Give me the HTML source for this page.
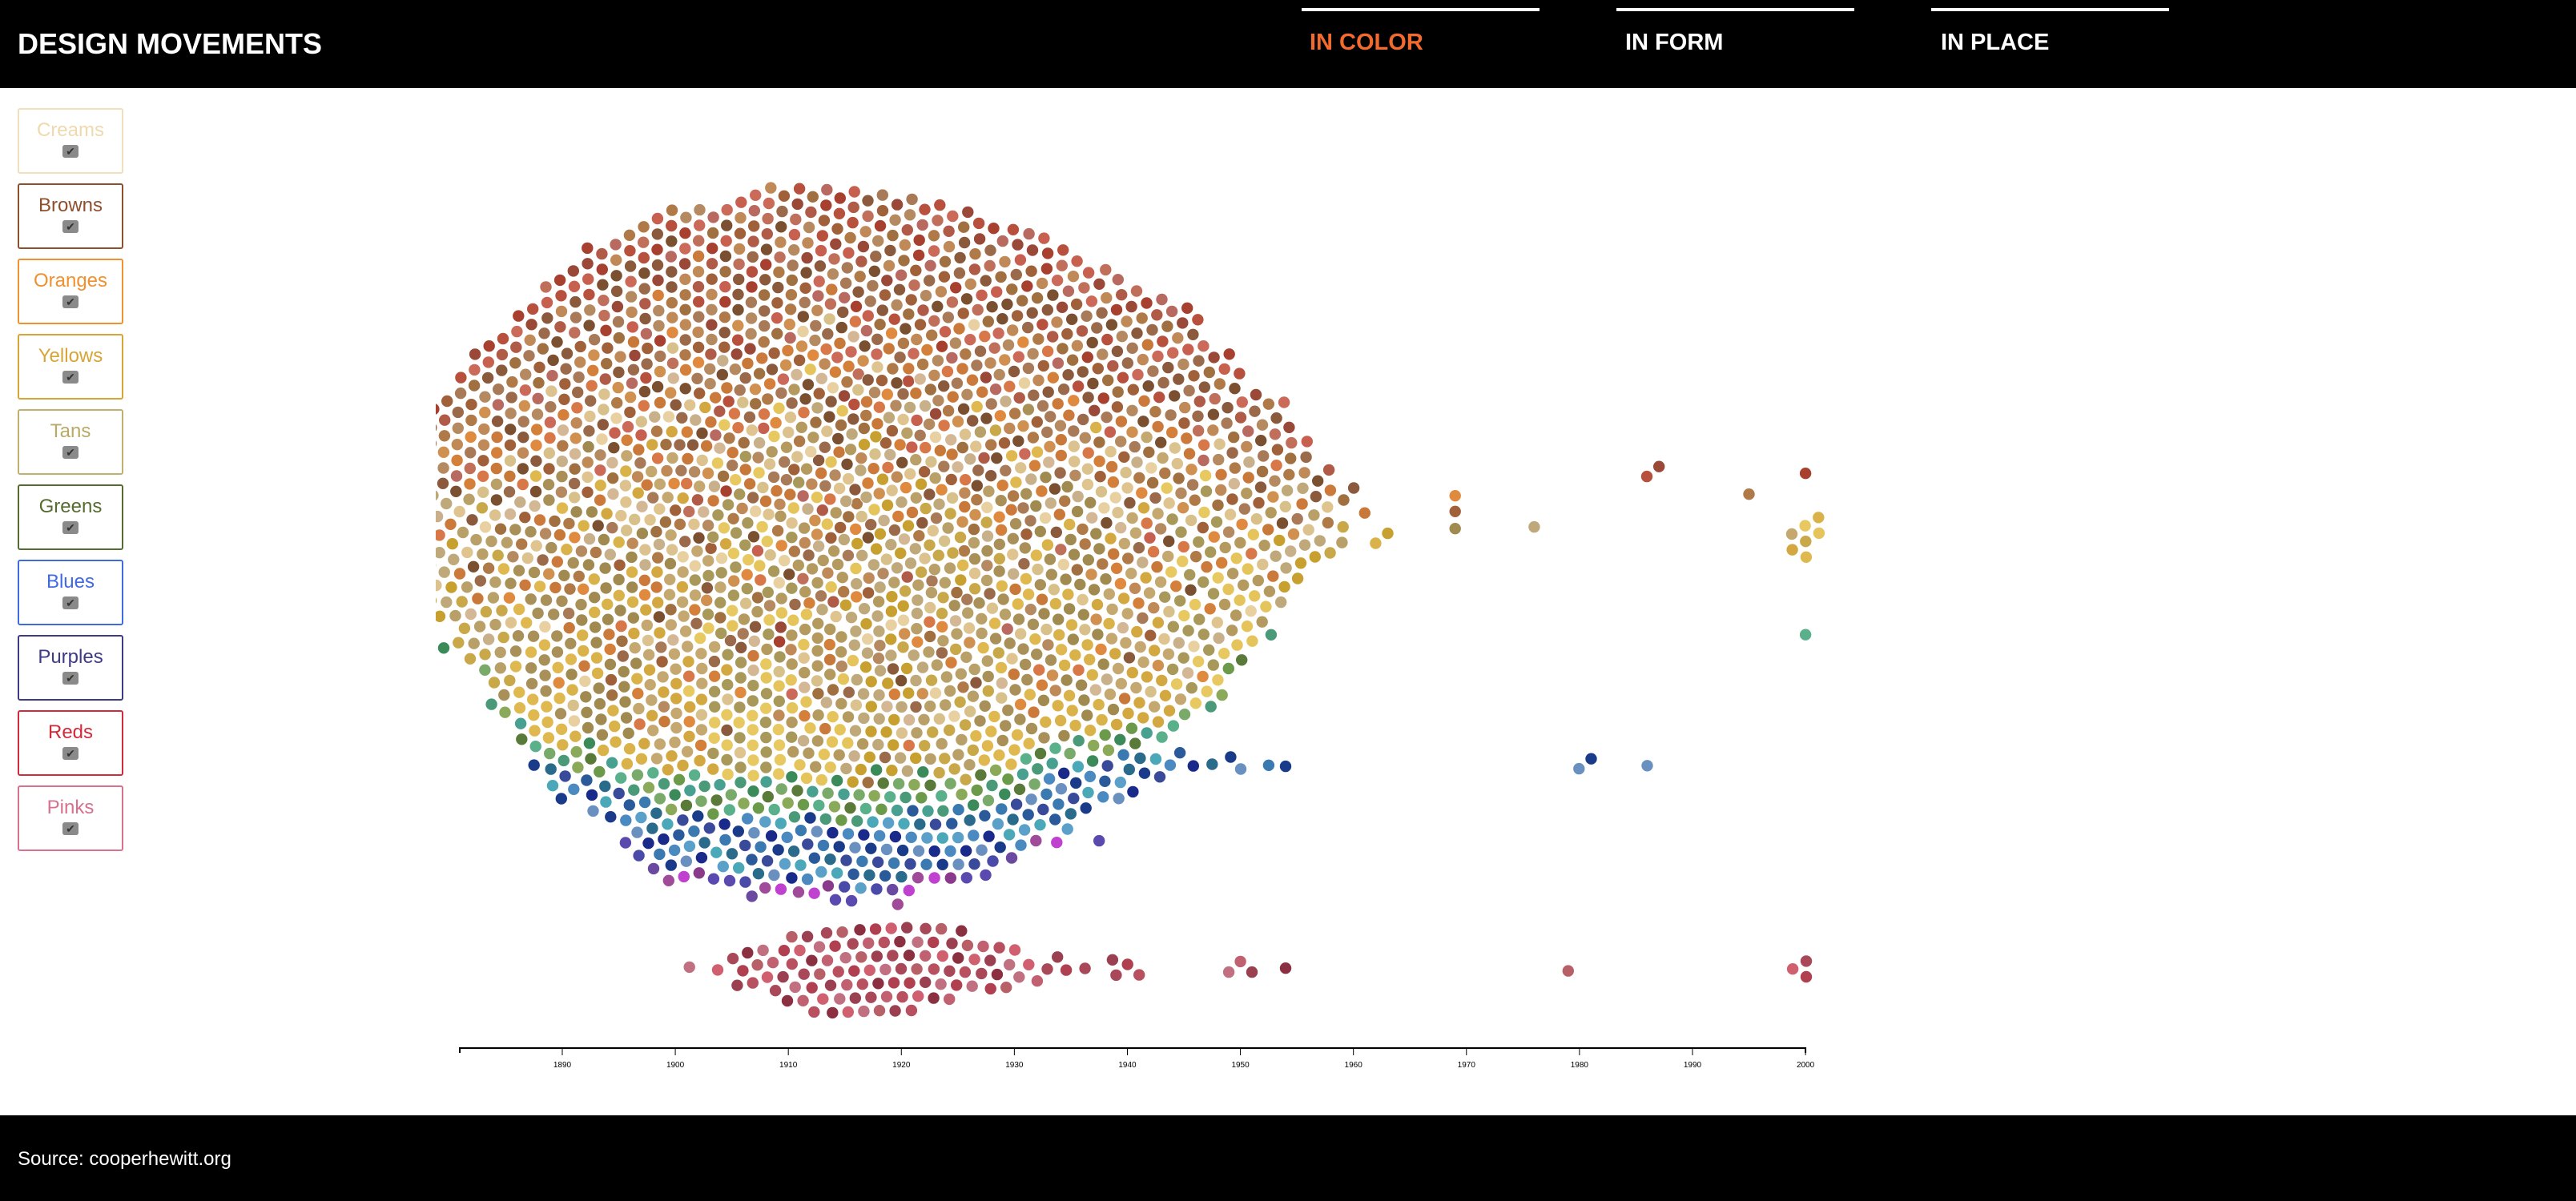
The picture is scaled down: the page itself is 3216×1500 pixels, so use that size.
<!DOCTYPE html>
<html><head><meta charset="utf-8">
<style>
html,body{margin:0;padding:0;width:3216px;height:1500px;overflow:hidden;background:#fff;font-family:"Liberation Sans",Arial,sans-serif;}
#header{position:absolute;left:0;top:0;width:3216px;height:110px;background:#000;}
#title{position:absolute;left:22px;top:34px;font-size:36px;font-weight:bold;color:#fff;letter-spacing:0px;}
.navbar{position:absolute;top:10px;height:4px;width:297px;background:#fff;}
.navtxt{position:absolute;top:37px;font-size:29px;font-weight:bold;color:#fff;}
#footer{position:absolute;left:0;top:1393px;width:3216px;height:107px;background:#000;}
#source{position:absolute;left:22px;top:41px;color:#fff;font-size:24px;}
.box{position:absolute;left:22px;width:128px;height:78px;border:2px solid;border-radius:3px;background:#fff;text-align:center;}
.box .lbl{font-size:24px;margin-top:12px;line-height:28px;}
.box .cb{width:20px;height:16px;background:#8a8a8a;border-radius:3px;margin:4px auto 0;color:#333;font-size:14px;line-height:16px;text-align:center;}
#chart{position:absolute;left:0;top:0;}
</style></head><body>
<div id="header">
  <div id="title">DESIGN MOVEMENTS</div>
  <div class="navbar" style="left:1625px"></div>
  <div class="navbar" style="left:2018px"></div>
  <div class="navbar" style="left:2411px"></div>
  <div class="navtxt" style="left:1635px;color:#f26a2e">IN COLOR</div>
  <div class="navtxt" style="left:2029px">IN FORM</div>
  <div class="navtxt" style="left:2423px">IN PLACE</div>
</div>

<div class="box" style="top:135px;border-color:#f0dfb8;color:#efd9ae"><div class="lbl">Creams</div><div class="cb">✔</div></div>
<div class="box" style="top:229px;border-color:#8e4f2c;color:#8e4f2c"><div class="lbl">Browns</div><div class="cb">✔</div></div>
<div class="box" style="top:323px;border-color:#f0902e;color:#f0902e"><div class="lbl">Oranges</div><div class="cb">✔</div></div>
<div class="box" style="top:417px;border-color:#d9a436;color:#d9a436"><div class="lbl">Yellows</div><div class="cb">✔</div></div>
<div class="box" style="top:511px;border-color:#c0b06e;color:#b8aa66"><div class="lbl">Tans</div><div class="cb">✔</div></div>
<div class="box" style="top:605px;border-color:#556b2f;color:#556b2f"><div class="lbl">Greens</div><div class="cb">✔</div></div>
<div class="box" style="top:699px;border-color:#4169e1;color:#4169e1"><div class="lbl">Blues</div><div class="cb">✔</div></div>
<div class="box" style="top:793px;border-color:#3e3a86;color:#3e3a86"><div class="lbl">Purples</div><div class="cb">✔</div></div>
<div class="box" style="top:887px;border-color:#d22a3c;color:#d22a3c"><div class="lbl">Reds</div><div class="cb">✔</div></div>
<div class="box" style="top:981px;border-color:#d8708e;color:#d8708e"><div class="lbl">Pinks</div><div class="cb">✔</div></div>

<svg id="chart" width="3216" height="1500">
  <defs><clipPath id="clip"><rect x="544" y="110" width="2672" height="1283"/></clipPath></defs>
  <g id="dots" clip-path="url(#clip)"></g>
  <g id="axis"></g>
</svg>

<div id="footer"><div id="source">Source: cooperhewitt.org</div></div>

<script>
// bins of 5 years starting 1860
const binStart = 1860;
const binYears = 5;
const groups = ["Reds","Browns","Oranges","Creams","Yellows","Tans","Greens","Blues","Purples","Pinks"];
const countsReds    = [0,0,1,2,5,10,17,22,24,27,28,27,25,22,19,16,13,8,4,1];
const countsBrowns  = [0,1,2,5,11,24,40,52,60,65,66,64,59,51,43,37,30,19,10,3];
const countsOranges = [0,0,1,2,5,10,16,20,23,24,24,24,23,20,17,14,12,7,4,1];
const countsCreams  = [0,0,1,2,4,8,13,18,19,22,22,22,19,18,14,13,10,6,3,1];
const countsYellows = [0,1,1,2,6,12,21,26,29,32,33,32,29,26,22,19,14,10,5,2];
const countsTans    = [0,1,1,3,7,16,29,35,40,44,45,44,40,35,29,24,20,13,7,2];
const countsGreens  = [0,0,0,0,1,3,6,9,11,13,13,13,11,10,8,6,4,2,1,0];
const countsBlues   = [0,0,0,0,0,1,7,12,16,18,19,19,17,16,13,10,6,3,1,0];
const countsPurples = [0,0,0,0,0,0,0,3,4,5,5,5,4,3,2,1,0,0,0,0];
const countsPinks   = [0,0,0,0,0,0,0,0,2,12,22,26,22,14,6,2,0,0,0,0];
// individual late objects (exact years)
const lateReds    = [1986,1987,2000];
const lateBrowns  = [1960,1969,1995];
const lateOranges = [1961,1969];
const lateCreams  = [];
const lateYellows = [1962,1963,1999,2000,2000,2000,2001,2001];
const lateTans    = [1969,1976,1999];
const lateGreens  = [2000];
const lateBlues   = [1950,1954,1980,1981,1986];
const latePurples = [];
const latePinks   = [1939,1940,1941,1949,1950,1951,1954,1979,1999,2000,2000];
const tickYears = [1890,1900,1910,1920,1930,1940,1950,1960,1970,1980,1990,2000];

const countsBy = {Reds:countsReds,Browns:countsBrowns,Oranges:countsOranges,Creams:countsCreams,Yellows:countsYellows,Tans:countsTans,Greens:countsGreens,Blues:countsBlues,Purples:countsPurples,Pinks:countsPinks};
const lateBy = {Reds:lateReds,Browns:lateBrowns,Oranges:lateOranges,Creams:lateCreams,Yellows:lateYellows,Tans:lateTans,Greens:lateGreens,Blues:lateBlues,Purples:latePurples,Pinks:latePinks};
const bandY = {Reds:590,Browns:618,Oranges:640,Creams:650,Yellows:672,Tans:660,Greens:790,Blues:955,Purples:1050,Pinks:1210};
const palettes = {
 Reds:["#b8503e","#b05a48","#a84030","#c86050","#c0705a","#9a4838","#cc6a5a","#b86a60"],
 Browns:["#a07040","#8b5a3c","#b07a48","#9a6a4a","#7a5030","#c08a58","#a0603a","#a87a58","#b58a60"],
 Oranges:["#d4803a","#e08a40","#c87838","#d87848","#d09050","#cc7a3c"],
 Creams:["#e0c490","#d4b896","#e8d0a0","#d8c08a","#c8b08a","#dcc28e"],
 Yellows:["#d4a840","#e0b850","#c8a030","#e8c860","#d9b24a","#c9a84a","#e6c45c"],
 Tans:["#b59a60","#c4a870","#a89058","#bfa97a","#a8985a","#a08a50","#b8a068"],
 Greens:["#5a7a3a","#6a9a4a","#3a8a5a","#8aaa5a","#4a9a7a","#7aaa6a","#5ab08a","#48a090"],
 Blues:["#2a5a9a","#3a7ab0","#1a3a8a","#4a8ac0","#5aa0c8","#2a6a8a","#3a4a9a","#6a90c0","#1a2a8a","#4aa8b8"],
 Purples:["#4a4aa8","#6a4aa0","#a04a9a","#c040d0","#8a3a8a","#5a4ab0"],
 Pinks:["#a84858","#b85060","#c06070","#8a3040","#d06070","#b04050","#c07080","#9a4050","#b86068"]
};
const x0 = 574, yr0 = 1880.93, pxPerYear = 14.11;
function xScale(y){ return x0 + (y - yr0) * pxPerYear; }
const axisY = 1309;

const nodes = [];
groups.forEach((g, gi) => {
  const c = countsBy[g];
  c.forEach((n, b) => {
    for (let k = 0; k < n; k++) {
      const yr = binStart + b*binYears + binYears*(k+0.5)/n;
      nodes.push({g, yr, ci: (k*7 + b*3 + gi) % palettes[g].length});
    }
  });
  lateBy[g].forEach((yr, k) => nodes.push({g, yr, ci: (k*5+gi) % palettes[g].length}));
});
nodes.forEach((d, i) => {
  d.tx = xScale(d.yr); d.ty = bandY[d.g];
  const f = ((i * 0.6180339887) % 1) - 0.5;
  d.x = d.tx + f*4; d.y = d.ty + f*60; d.vx = 0; d.vy = 0;
});

(function simulate(){
  const R = 9.8, D = 2*R, D2 = D*D;
  let alpha = 1; const decay = 1 - Math.pow(0.001, 1/300);
  const sx = 0.5, sy = 0.035;
  for (let t = 0; t < 320; t++) {
    alpha += (0 - alpha) * decay;
    for (const d of nodes) { d.vx += (d.tx - d.x) * sx * alpha; d.vy += (d.ty - d.y) * sy * alpha; }
    for (let it = 0; it < 2; it++) {
      const grid = new Map();
      for (let i = 0; i < nodes.length; i++) {
        const d = nodes[i]; const px = d.x + d.vx, py = d.y + d.vy;
        const key = Math.floor(px/D) + "," + Math.floor(py/D);
        if (!grid.has(key)) grid.set(key, []); grid.get(key).push(i);
      }
      for (let i = 0; i < nodes.length; i++) {
        const a = nodes[i]; const ax = a.x + a.vx, ay = a.y + a.vy;
        const cx = Math.floor(ax/D), cy = Math.floor(ay/D);
        for (let gx = cx-1; gx <= cx+1; gx++) for (let gy = cy-1; gy <= cy+1; gy++) {
          const cell = grid.get(gx + "," + gy); if (!cell) continue;
          for (const j of cell) {
            if (j <= i) continue;
            const b = nodes[j];
            let dx = ax - (b.x + b.vx), dy = ay - (b.y + b.vy);
            let l = dx*dx + dy*dy;
            if (l < D2) {
              if (dx === 0) dx = ((i*13+j*7)%10 - 4.5) * 1e-3;
              if (dy === 0) dy = ((i*7+j*13)%10 - 4.5) * 1e-3;
              l = Math.sqrt(dx*dx + dy*dy);
              const s = (D - l) / l * 0.5 * 0.8;
              a.vx += dx*s; a.vy += dy*s; b.vx -= dx*s; b.vy -= dy*s;
            }
          }
        }
      }
    }
    for (const d of nodes) { d.vx *= 0.6; d.vy *= 0.6; d.x += d.vx; d.y += d.vy; }
  }
})();

const NS = "http://www.w3.org/2000/svg";
const dotsG = document.getElementById("dots");
nodes.forEach(d => {
  const c = document.createElementNS(NS, "circle");
  c.setAttribute("cx", d.x.toFixed(1));
  c.setAttribute("cy", d.y.toFixed(1));
  c.setAttribute("r", 7.6);
  c.setAttribute("fill", palettes[d.g][d.ci]);
  c.setAttribute("stroke", "#fff");
  c.setAttribute("stroke-width", 0.8);
  
  
  dotsG.appendChild(c);
});

const axisG = document.getElementById("axis");
const line = document.createElementNS(NS, "path");
line.setAttribute("d", `M${x0},${axisY+6}V${axisY}H${xScale(2000)}V${axisY+6}`);
line.setAttribute("fill", "none"); line.setAttribute("stroke", "#000"); line.setAttribute("stroke-width", 2);


axisG.appendChild(line);
tickYears.forEach(y => {
  const tk = document.createElementNS(NS, "line");
  tk.setAttribute("x1", xScale(y)); tk.setAttribute("x2", xScale(y));
  tk.setAttribute("y1", axisY); tk.setAttribute("y2", axisY+9);
  tk.setAttribute("stroke", "#000"); tk.setAttribute("stroke-width", 1);
  
  
  axisG.appendChild(tk);
  const tx = document.createElementNS(NS, "text");
  tx.setAttribute("x", xScale(y)); tx.setAttribute("y", axisY+24);
  tx.setAttribute("text-anchor", "middle"); tx.setAttribute("font-size", 10);
  tx.setAttribute("font-family", "Liberation Sans, sans-serif");
  tx.textContent = y;
  
  
  axisG.appendChild(tx);
});
</script>
</body></html>
